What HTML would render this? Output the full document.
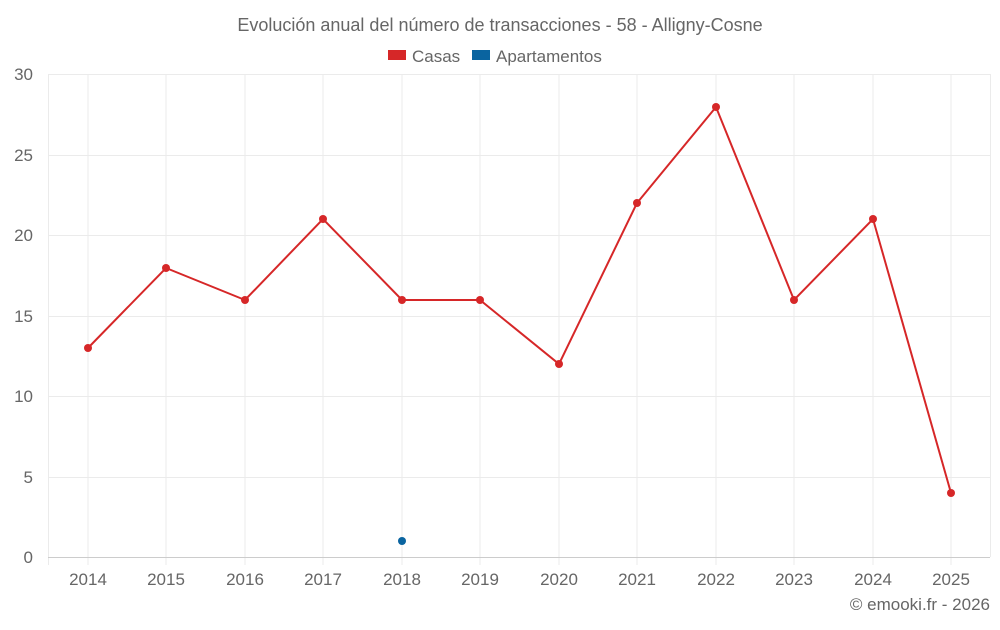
<!DOCTYPE html>
<html><head><meta charset="utf-8"><style>
body{margin:0;background:#fff;font-family:"Liberation Sans",sans-serif;}
svg text{font-family:"Liberation Sans",sans-serif;}
</style></head><body>
<svg width="1000" height="625" xmlns="http://www.w3.org/2000/svg">
<text x="500" y="31" text-anchor="middle" font-size="18" fill="#666">Evolución anual del número de transacciones - 58 - Alligny-Cosne</text>
<rect x="388" y="50" width="18" height="10" fill="#d62728"/>
<text x="412" y="62" font-size="17" fill="#666">Casas</text>
<rect x="472" y="50" width="18" height="10" fill="#0a64a0"/>
<text x="496" y="62" font-size="17" fill="#666">Apartamentos</text>
<g stroke="#ebebeb" stroke-width="1">
<line x1="48" y1="74.5" x2="990" y2="74.5"/>
<line x1="48" y1="155.5" x2="990" y2="155.5"/>
<line x1="48" y1="235.5" x2="990" y2="235.5"/>
<line x1="48" y1="316.5" x2="990" y2="316.5"/>
<line x1="48" y1="396.5" x2="990" y2="396.5"/>
<line x1="48" y1="477.5" x2="990" y2="477.5"/>
<line x1="48.5" y1="74" x2="48.5" y2="565"/>
<line x1="990.5" y1="74" x2="990.5" y2="557"/>
<line x1="88" y1="74" x2="88" y2="565"/><line x1="166" y1="74" x2="166" y2="565"/><line x1="245" y1="74" x2="245" y2="565"/><line x1="323" y1="74" x2="323" y2="565"/><line x1="402" y1="74" x2="402" y2="565"/><line x1="480" y1="74" x2="480" y2="565"/><line x1="559" y1="74" x2="559" y2="565"/><line x1="637" y1="74" x2="637" y2="565"/><line x1="716" y1="74" x2="716" y2="565"/><line x1="794" y1="74" x2="794" y2="565"/><line x1="873" y1="74" x2="873" y2="565"/><line x1="951" y1="74" x2="951" y2="565"/>
</g>
<line x1="48" y1="557.5" x2="990" y2="557.5" stroke="#ccc"/>
<g font-size="17" fill="#666" text-anchor="end">
<text x="33" y="80">30</text><text x="33" y="161">25</text><text x="33" y="241">20</text><text x="33" y="322">15</text><text x="33" y="402">10</text><text x="33" y="483">5</text><text x="33" y="563">0</text>
</g>
<g font-size="17" fill="#666" text-anchor="middle">
<text x="88" y="585">2014</text><text x="166" y="585">2015</text><text x="245" y="585">2016</text><text x="323" y="585">2017</text><text x="402" y="585">2018</text><text x="480" y="585">2019</text><text x="559" y="585">2020</text><text x="637" y="585">2021</text><text x="716" y="585">2022</text><text x="794" y="585">2023</text><text x="873" y="585">2024</text><text x="951" y="585">2025</text>
</g>
<polyline fill="none" stroke="#d62728" stroke-width="2" points="88,348 166,268 245,300 323,219 402,300 480,300 559,364 637,203 716,107 794,300 873,219 951,493"/>
<g fill="#d62728">
<circle cx="88" cy="348" r="4"/><circle cx="166" cy="268" r="4"/><circle cx="245" cy="300" r="4"/><circle cx="323" cy="219" r="4"/><circle cx="402" cy="300" r="4"/><circle cx="480" cy="300" r="4"/><circle cx="559" cy="364" r="4"/><circle cx="637" cy="203" r="4"/><circle cx="716" cy="107" r="4"/><circle cx="794" cy="300" r="4"/><circle cx="873" cy="219" r="4"/><circle cx="951" cy="493" r="4"/>
</g>
<circle cx="402" cy="541" r="4" fill="#0a64a0"/>
<text x="990" y="610" text-anchor="end" font-size="17" fill="#666">© emooki.fr - 2026</text>
</svg>
</body></html>
